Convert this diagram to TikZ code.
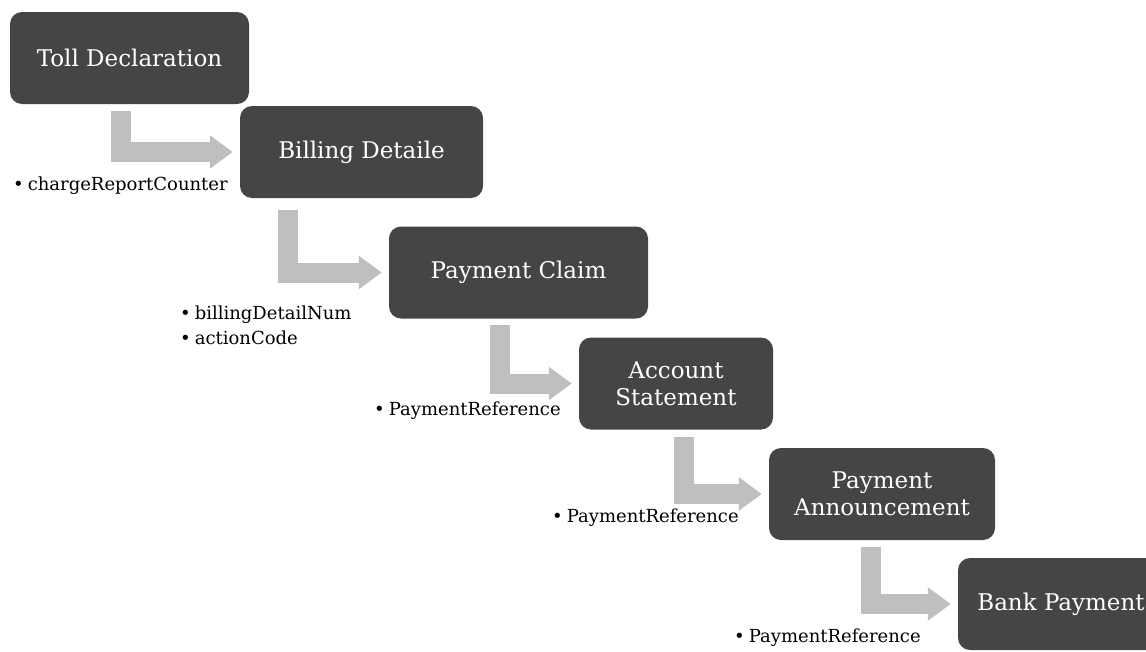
\documentclass[tikz,border=0pt]{standalone}
\usepackage{fontspec}
\setmainfont{DejaVu Serif}
\usetikzlibrary{arrows.meta}

\definecolor{boxgray}{HTML}{454545}
\definecolor{arrowgray}{HTML}{BFBFBF}

\newcommand{\notebullet}{\textbullet\hspace{4pt}}

\tikzset{
	StepBox/.style = {fill=boxgray, rounded corners=12pt, text=white, align=center,
		inner sep=0pt, minimum height=92pt, font=\fontsize{23}{27}\selectfont},
	StepArrow/.style = {draw=arrowgray, line width=20pt,
		-{Triangle[length=23pt,width=32pt]}, shorten >=7pt},
	NoteText/.style = {anchor=west, inner sep=0pt, align=left,
		font=\fontsize{18}{25}\selectfont}
}

\begin{document}
\begin{tikzpicture}[x=1pt,y=-1pt]
	\useasboundingbox (0,0) rectangle (1146,651);
	% steps
	\node[StepBox, minimum width=239pt] (toll)     at (129.5,58)  {Toll Declaration};
	\node[StepBox, minimum width=243pt] (billing)  at (361.5,152) {Billing Detaile};
	\node[StepBox, minimum width=259pt] (claim)    at (518.5,272.5) {Payment Claim};
	\node[StepBox, minimum width=194pt] (account)  at (676,383.5) {Account\\Statement};
	\node[StepBox, minimum width=226pt] (announce) at (882,494)   {Payment\\Announcement};
	\node[StepBox, minimum width=206pt] (bank)     at (1061,604)  {Bank Payment};
	% arrow starts
	\coordinate (a1) at (120.5,111);
	\coordinate (a2) at (288,210);
	\coordinate (a3) at (499.5,325);
	\coordinate (a4) at (684,437);
	\coordinate (a5) at (870.5,547);
	\draw[StepArrow] (a1) |- (billing);
	\draw[StepArrow] (a2) |- (claim);
	\draw[StepArrow] (a3) |- (account);
	\draw[StepArrow] (a4) |- (announce);
	\draw[StepArrow] (a5) |- (bank);
	% notes
	\node[NoteText] (n1) at (13,186)   {\notebullet chargeReportCounter};
	\node[NoteText] (n2) at (180,325.5) {\notebullet billingDetailNum\\\notebullet actionCode};
	\node[NoteText] (n3) at (374,411)  {\notebullet PaymentReference};
	\node[NoteText] (n4) at (552,518)  {\notebullet PaymentReference};
	\node[NoteText] (n5) at (734,638)  {\notebullet PaymentReference};
\end{tikzpicture}
\end{document}
